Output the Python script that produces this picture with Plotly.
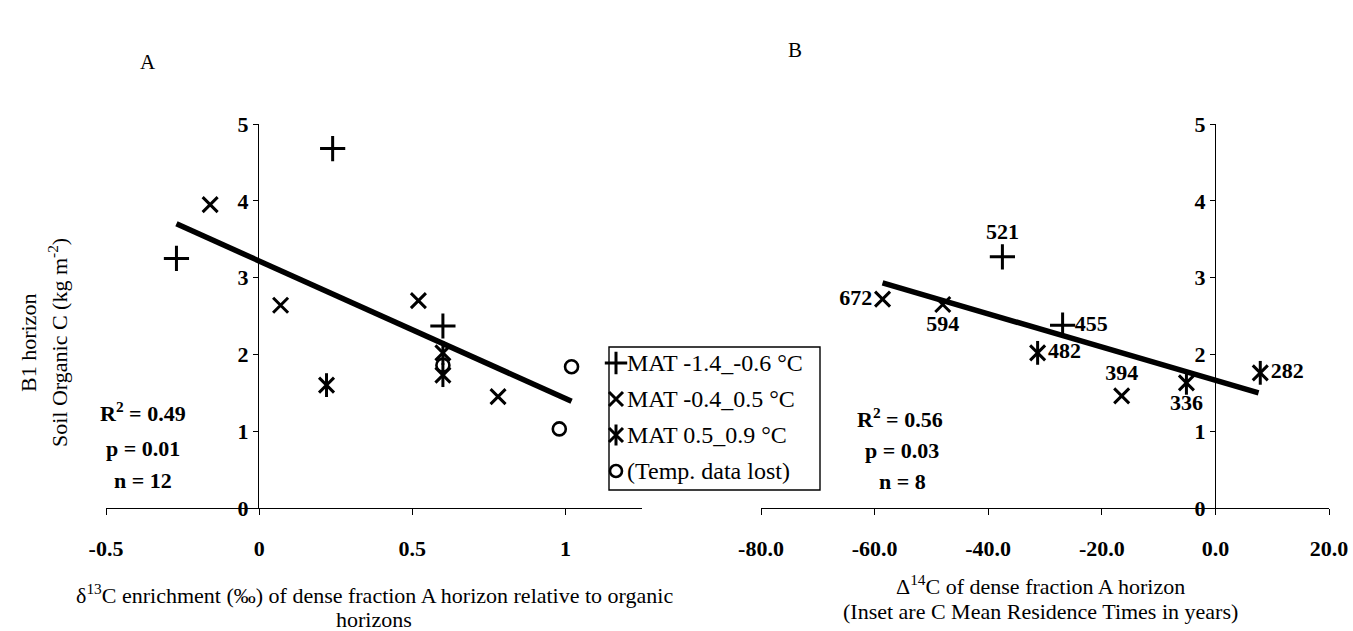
import plotly.graph_objects as go

W, H = 1353, 631
FONT = "Liberation Serif"

# ---------------- Panel A data ----------------
a_cold_x = [-0.27, 0.24, 0.60]
a_cold_y = [3.25, 4.68, 2.37]
a_mid_x = [-0.16, 0.07, 0.52, 0.78]
a_mid_y = [3.95, 2.64, 2.70, 1.45]
a_warm_x = [0.22, 0.60, 0.60]
a_warm_y = [1.60, 2.02, 1.73]
a_lost_x = [0.60, 1.02, 0.98]
a_lost_y = [1.86, 1.84, 1.03]
a_trend_x = [-0.27, 1.02]
a_trend_y = [3.70, 1.39]
a_xticks = [-0.5, 0, 0.5, 1]
a_xticklabels = ["-0.5", "0", "0.5", "1"]

# ---------------- Panel B data ----------------
b_cold_x = [-37.5, -26.9]
b_cold_y = [3.27, 2.38]
b_cold_lbl = ["521", "455"]
b_mid_x = [-58.6, -48.0, -16.5]
b_mid_y = [2.72, 2.65, 1.46]
b_mid_lbl = ["672", "594", "394"]
b_warm_x = [-31.3, -5.1, 7.9]
b_warm_y = [2.02, 1.63, 1.76]
b_warm_lbl = ["482", "336", "282"]
b_trend_x = [-58.6, 7.6]
b_trend_y = [2.93, 1.50]
b_xticks = [-80, -60, -40, -20, 0, 20]
b_xticklabels = ["-80.0", "-60.0", "-40.0", "-20.0", "0.0", "20.0"]
yticks = [0, 1, 2, 3, 4, 5]

legend_names = ["MAT -1.4_-0.6 \u00b0C", "MAT -0.4_0.5 \u00b0C",
                "MAT 0.5_0.9 \u00b0C", "(Temp. data lost)"]


def px(x):
    return x / W


def py(y):
    return 1 - y / H


MS = 18
LW = 3
plus = dict(symbol="cross-thin", size=MS, line=dict(width=LW, color="black"), color="black")
cross = dict(symbol="x-thin", size=MS - 3, line=dict(width=LW, color="black"), color="black")
vbar = dict(symbol="line-ns", size=MS - 1, line=dict(width=LW, color="black"), color="black")
circ = dict(symbol="circle-open", size=13, line=dict(width=2.6, color="black"), color="black")

fig = go.Figure()

# Panel A
fig.add_trace(go.Scatter(x=a_trend_x, y=a_trend_y, mode="lines",
                         line=dict(color="black", width=5.5), xaxis="x", yaxis="y"))
fig.add_trace(go.Scatter(x=a_cold_x, y=a_cold_y, mode="markers", marker=plus, xaxis="x", yaxis="y"))
fig.add_trace(go.Scatter(x=a_mid_x, y=a_mid_y, mode="markers", marker=cross, xaxis="x", yaxis="y"))
fig.add_trace(go.Scatter(x=a_warm_x, y=a_warm_y, mode="markers", marker=cross, xaxis="x", yaxis="y"))
fig.add_trace(go.Scatter(x=a_warm_x, y=a_warm_y, mode="markers", marker=vbar, xaxis="x", yaxis="y"))
fig.add_trace(go.Scatter(x=a_lost_x, y=a_lost_y, mode="markers", marker=circ, xaxis="x", yaxis="y"))

# Panel B
fig.add_trace(go.Scatter(x=b_trend_x, y=b_trend_y, mode="lines",
                         line=dict(color="black", width=5.5), xaxis="x2", yaxis="y2"))
tfont = dict(family=FONT, size=22, color="black", weight="bold")
fig.add_trace(go.Scatter(x=b_cold_x, y=b_cold_y, mode="markers+text", marker=plus,
                         text=b_cold_lbl, textposition=["top center", "middle right"],
                         textfont=tfont, xaxis="x2", yaxis="y2"))
fig.add_trace(go.Scatter(x=b_mid_x, y=b_mid_y, mode="markers+text", marker=cross,
                         text=b_mid_lbl, textposition=["middle left", "bottom center", "top center"],
                         textfont=tfont, xaxis="x2", yaxis="y2"))
fig.add_trace(go.Scatter(x=b_warm_x, y=b_warm_y, mode="markers+text", marker=cross,
                         text=b_warm_lbl, textposition=["middle right", "bottom center", "middle right"],
                         textfont=tfont, xaxis="x2", yaxis="y2"))
fig.add_trace(go.Scatter(x=b_warm_x, y=b_warm_y, mode="markers", marker=vbar,
                         xaxis="x2", yaxis="y2"))

# Manual legend symbols on an overlay pixel axis
leg_sym_x = [616, 616, 616, 616]
leg_sym_y = [363, 399, 435, 471]
fig.add_trace(go.Scatter(x=[leg_sym_x[0]], y=[leg_sym_y[0]], mode="markers",
                         marker=dict(plus, size=16), xaxis="x3", yaxis="y3"))
fig.add_trace(go.Scatter(x=[leg_sym_x[1]], y=[leg_sym_y[1]], mode="markers",
                         marker=dict(cross, size=14), xaxis="x3", yaxis="y3"))
fig.add_trace(go.Scatter(x=[leg_sym_x[2]], y=[leg_sym_y[2]], mode="markers",
                         marker=dict(cross, size=14), xaxis="x3", yaxis="y3"))
fig.add_trace(go.Scatter(x=[leg_sym_x[2]], y=[leg_sym_y[2]], mode="markers",
                         marker=dict(vbar, size=15), xaxis="x3", yaxis="y3"))
fig.add_trace(go.Scatter(x=[leg_sym_x[3]], y=[leg_sym_y[3]], mode="markers",
                         marker=dict(circ, size=12), xaxis="x3", yaxis="y3"))

tickfont = dict(family=FONT, size=22, color="black")
common_x = dict(showline=True, linecolor="black", linewidth=1.4, ticks="outside",
                ticklen=6, tickcolor="black", showgrid=False, zeroline=False,
                tickfont=tickfont, ticklabelstandoff=14, tickmode="array",
                automargin=False)
common_y = dict(showline=True, linecolor="black", linewidth=1.4, ticks="outside",
                ticklen=5, tickcolor="black", showgrid=False, zeroline=False,
                tickfont=tickfont, range=[0, 5], tickmode="array", tickvals=yticks,
                ticktext=[f"<b>{v}</b>" for v in yticks], ticklabelstandoff=0,
                domain=[py(508), py(124)], anchor="free", automargin=False)

fig.update_layout(
    width=W, height=H, margin=dict(l=0, r=0, t=0, b=0, autoexpand=False),
    paper_bgcolor="white", plot_bgcolor="rgba(0,0,0,0)", showlegend=False,
    font=dict(family=FONT, color="black"),
    xaxis=dict(common_x, domain=[px(106), px(642)], range=[-0.5, 1.25],
               tickvals=a_xticks, ticktext=[f"<b>{t}</b>" for t in a_xticklabels], anchor="y"),
    yaxis=dict(common_y, position=px(258)),
    xaxis2=dict(common_x, domain=[px(761), px(1329)], range=[-80, 20],
                tickvals=b_xticks, ticktext=[f"<b>{t}</b>" for t in b_xticklabels], anchor="y2"),
    yaxis2=dict(common_y, position=px(1215)),
    xaxis3=dict(domain=[0, 1], range=[0, W], visible=False, anchor="y3", automargin=False),
    yaxis3=dict(domain=[0, 1], range=[H, 0], visible=False, anchor="x3", automargin=False),
)

fig.add_shape(type="rect", xref="paper", yref="paper",
              x0=px(609), x1=px(820), y0=py(490), y1=py(347),
              line=dict(color="black", width=1.4), fillcolor="rgba(0,0,0,0)")

ann = []


def add_text(text, x, y, size=22, xanchor="center", angle=0, bold=False):
    t = f"<b>{text}</b>" if bold else text
    ann.append(dict(text=t, x=px(x), y=py(y), xref="paper", yref="paper",
                    showarrow=False, xanchor=xanchor, yanchor="middle",
                    textangle=angle, font=dict(family=FONT, size=size, color="black")))


for i, name in enumerate(legend_names):
    add_text(name, 625, leg_sym_y[i], size=24, xanchor="left")

add_text("A", 148, 62, size=21)
add_text("B", 795, 50, size=21)
add_text("B1 horizon", 28, 343, angle=-90, size=22)
add_text("Soil Organic C (kg m<sup>-2</sup>)", 58, 343, angle=-90, size=22)

add_text("R<sup>2</sup> = 0.49", 143, 412, bold=True)
add_text("p = 0.01", 143, 448, bold=True)
add_text("n = 12", 143, 480, bold=True)
add_text("R<sup>2</sup> = 0.56", 900, 418, bold=True)
add_text("p = 0.03", 902, 450, bold=True)
add_text("n = 8", 902, 481, bold=True)

add_text("\u03b4<sup>13</sup>C enrichment (\u2030) of dense fraction A horizon relative to organic",
         374, 594, size=22)
add_text("horizons", 374, 619, size=22)
add_text("\u0394<sup>14</sup>C of dense fraction A horizon", 1040, 585, size=22)
add_text("(Inset are C Mean Residence Times in years)", 1040, 611, size=22)

fig.update_layout(annotations=ann)
fig.write_html("out.html")
